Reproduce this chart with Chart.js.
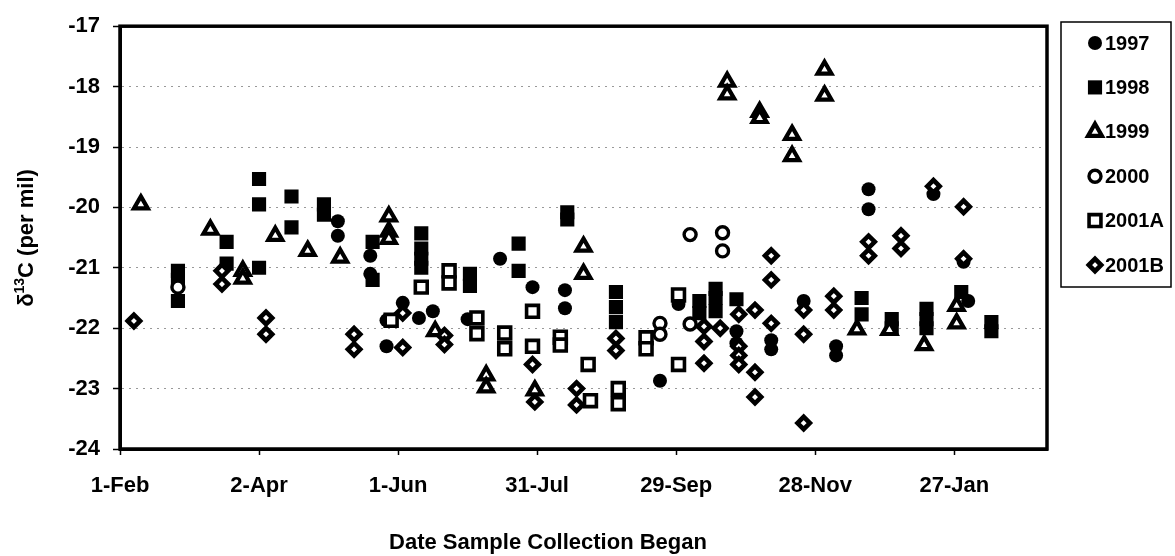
<!DOCTYPE html>
<html lang="en">
<head>
<meta charset="UTF-8">
<title>d13C by collection date</title>
<script src="https://cdn.jsdelivr.net/npm/chart.js"></script>
<style>
  body { margin: 0; background: #fff; }
  #wrap { width: 1175px; height: 556px; }
</style>
</head>
<body>
<div id="wrap"><canvas id="c" width="1175" height="556"></canvas></div>
<script>
// x = day of year counted from 1 Jan of the first year (1-Feb = 32, 27-Jan = 392)
const tickDays   = [32, 92, 152, 212, 272, 332, 392];
const tickLabels = ['1-Feb', '2-Apr', '1-Jun', '31-Jul', '29-Sep', '28-Nov', '27-Jan'];
const yTicks     = [-24, -23, -22, -21, -20, -19, -18, -17];

const seriesNames = ['1997', '1998', '1999', '2000', '2001A', '2001B'];

const x1997 = [126, 126, 140, 140, 147, 147, 154, 161, 167, 182, 196, 210, 224, 224, 265, 273, 298, 298, 313, 313, 327, 341, 341, 355, 355, 383, 396, 398];
const y1997 = [-20.23, -20.47, -20.8, -21.1, -21.87, -22.3, -21.58, -21.83, -21.72, -21.85, -20.85, -21.32, -21.37, -21.67, -22.87, -21.6, -22.05, -22.25, -22.2, -22.35, -21.55, -22.3, -22.45, -19.7, -20.03, -19.78, -20.9, -21.55];

const x1998 = [57, 57, 57, 78, 78, 92, 92, 92, 106, 106, 120, 120, 141, 141, 162, 162, 162, 162, 183, 183, 204, 204, 225, 225, 246, 246, 246, 282, 282, 289, 289, 289, 298, 352, 352, 365, 365, 380, 380, 380, 395, 408, 408];
const y1998 = [-21.05, -21.2, -21.55, -20.57, -20.93, -19.53, -19.95, -21.0, -19.82, -20.33, -19.95, -20.12, -20.57, -21.2, -20.43, -20.68, -20.85, -21.0, -21.1, -21.3, -20.6, -21.05, -20.08, -20.2, -21.4, -21.65, -21.9, -21.55, -21.75, -21.35, -21.5, -21.72, -21.52, -21.5, -21.77, -21.85, -22.0, -21.68, -21.85, -22.0, -21.4, -21.9, -22.05];

const x1999 = [41, 71, 85, 85, 99, 113, 127, 148, 148, 148, 168, 190, 190, 211, 232, 232, 294, 294, 308, 308, 322, 322, 336, 336, 350, 364, 379, 393, 393];
const y1999 = [-19.95, -20.37, -21.05, -21.18, -20.47, -20.72, -20.83, -20.15, -20.4, -20.52, -22.05, -22.78, -22.98, -23.03, -20.65, -21.1, -17.92, -18.13, -18.42, -18.52, -18.8, -19.15, -17.72, -18.15, -22.02, -22.03, -22.28, -21.63, -21.92];

const x2000 = [57, 265, 265, 278, 278, 292, 292];
const y2000 = [-21.32, -21.92, -22.1, -20.45, -21.93, -20.42, -20.72];

const x2001A = [149, 162, 174, 174, 186, 186, 198, 198, 210, 210, 222, 222, 234, 235, 247, 247, 259, 259, 273, 273];
const y2001A = [-21.87, -21.32, -21.05, -21.25, -21.83, -22.09, -22.08, -22.34, -21.72, -22.3, -22.15, -22.28, -22.6, -23.2, -23.0, -23.25, -22.16, -22.34, -21.45, -22.6];

const x2001B = [38, 76, 76, 95, 95, 133, 133, 154, 154, 172, 172, 210, 211, 229, 229, 246, 246, 284, 284, 284, 291, 299, 299, 299, 299, 306, 306, 306, 313, 313, 313, 327, 327, 327, 340, 340, 355, 355, 369, 369, 383, 396, 396];
const y2001B = [-21.88, -21.05, -21.27, -21.83, -22.1, -22.1, -22.35, -21.75, -22.32, -22.12, -22.27, -22.6, -23.22, -23.0, -23.27, -22.17, -22.37, -21.97, -22.22, -22.58, -22.0, -21.77, -22.3, -22.45, -22.6, -21.7, -22.73, -23.14, -20.8, -21.2, -21.92, -21.7, -22.1, -23.57, -21.47, -21.7, -20.57, -20.8, -20.47, -20.68, -19.65, -19.99, -20.85];

const allX = [x1997, x1998, x1999, x2000, x2001A, x2001B];
const allY = [y1997, y1998, y1999, y2000, y2001A, y2001B];

// marker look per series
const markers = [
  { pointStyle: 'circle',   radius: 7,   fill: '#000', borderWidth: 0 },
  { pointStyle: 'rect',     radius: 10,  fill: '#000', borderWidth: 0 },
  { pointStyle: 'triangle', radius: 8,   fill: '#fff', borderWidth: 4.2 },
  { pointStyle: 'circle',   radius: 6,   fill: '#fff', borderWidth: 3.4 },
  { pointStyle: 'rect',     radius: 8.4, fill: '#fff', borderWidth: 3.6 },
  { pointStyle: 'rectRot',  radius: 6.2, fill: '#fff', borderWidth: 4.6 }
];

const FONT = '"Liberation Sans", Arial, sans-serif';

const datasets = seriesNames.map((name, i) => ({
  label: name,
  data: allX[i].map((x, j) => ({ x: x, y: allY[i][j] })),
  pointStyle: markers[i].pointStyle,
  pointRadius: markers[i].radius,
  pointHoverRadius: markers[i].radius,
  pointBackgroundColor: markers[i].fill,
  pointBorderColor: '#000',
  pointBorderWidth: markers[i].borderWidth,
  showLine: false,
  order: 5 - i   // later years drawn on top, like the original
}));

function drawMarker(ctx, m, x, y) {
  ctx.save();
  ctx.beginPath();
  const r = m.radius;
  if (m.pointStyle === 'circle') {
    ctx.arc(x, y, r, 0, Math.PI * 2);
  } else if (m.pointStyle === 'rect') {
    const s = Math.SQRT1_2 * r;
    ctx.rect(x - s, y - s, 2 * s, 2 * s);
  } else if (m.pointStyle === 'triangle') {
    for (let k = 0; k < 3; k++) {
      const a = k * 2 * Math.PI / 3;
      const px = x + Math.sin(a) * r, py = y - Math.cos(a) * r;
      if (k === 0) ctx.moveTo(px, py); else ctx.lineTo(px, py);
    }
    ctx.closePath();
  } else {
    ctx.moveTo(x - r, y); ctx.lineTo(x, y - r); ctx.lineTo(x + r, y); ctx.lineTo(x, y + r);
    ctx.closePath();
  }
  ctx.fillStyle = m.fill;
  ctx.fill();
  if (m.borderWidth > 0) {
    ctx.lineWidth = m.borderWidth;
    ctx.strokeStyle = '#000';
    ctx.stroke();
  }
  ctx.restore();
}

const decor = {
  id: 'decor',
  afterDraw(chart) {
    const ctx = chart.ctx;
    const a = chart.chartArea;
    ctx.save();
    // heavy plot frame
    ctx.lineWidth = 3.5;
    ctx.strokeStyle = '#000';
    ctx.strokeRect(a.left, a.top, a.right - a.left, a.bottom - a.top);

    // x title
    ctx.fillStyle = '#000';
    ctx.font = 'bold 22px ' + FONT;
    ctx.textAlign = 'center';
    ctx.textBaseline = 'alphabetic';
    ctx.fillText('Date Sample Collection Began', 548, 549);

    // y title with superscript 13
    ctx.save();
    ctx.translate(33, 238);
    ctx.rotate(-Math.PI / 2);
    const big = 'bold 22px ' + FONT, small = 'bold 14px ' + FONT;
    ctx.font = big;
    const w1 = ctx.measureText('\u03b4').width;
    const w3 = ctx.measureText('C (per mil)').width;
    ctx.font = small;
    const w2 = ctx.measureText('13').width;
    let x0 = -(w1 + w2 + w3) / 2;
    ctx.textAlign = 'left';
    ctx.font = big;
    ctx.fillText('\u03b4', x0, 0);
    ctx.font = small;
    ctx.fillText('13', x0 + w1, -9);
    ctx.font = big;
    ctx.fillText('C (per mil)', x0 + w1 + w2, 0);
    ctx.restore();

    // legend box
    ctx.lineWidth = 1.5;
    ctx.strokeRect(1061, 22, 110, 265);
    ctx.font = 'bold 20px ' + FONT;
    ctx.textAlign = 'left';
    ctx.textBaseline = 'middle';
    seriesNames.forEach((name, i) => {
      const y = 43 + i * 44.4;
      drawMarker(ctx, markers[i], 1095, y);
      ctx.fillStyle = '#000';
      ctx.fillText(name, 1105, y + 1);
    });
    ctx.restore();
  }
};

new Chart(document.getElementById('c'), {
  type: 'scatter',
  data: { datasets: datasets },
  options: {
    responsive: false,
    animation: false,
    layout: { padding: { left: 0, right: 128, top: 23, bottom: 0 } },
    plugins: { legend: { display: false }, tooltip: { enabled: false } },
    scales: {
      x: {
        type: 'linear',
        min: 32,
        max: 432,
        afterBuildTicks: s => { s.ticks = tickDays.map(v => ({ value: v })); },
        afterFit: s => { s.height = 107; },
        grid: { drawOnChartArea: false, drawTicks: true, tickLength: 6, tickColor: '#000', tickWidth: 1.5 },
        border: { display: true, color: '#000', width: 3 },
        ticks: {
          color: '#000',
          padding: 18,
          maxRotation: 0,
          autoSkip: false,
          font: { family: FONT, size: 22, weight: 'bold' },
          callback: v => tickLabels[tickDays.indexOf(v)] || ''
        }
      },
      y: {
        min: -24,
        max: -17,
        afterBuildTicks: s => { s.ticks = yTicks.map(v => ({ value: v })); },
        afterFit: s => { s.width = 120; },
        grid: { color: '#999', lineWidth: 1, tickLength: 7, tickColor: '#000', tickWidth: 1.5 },
        border: { display: true, color: '#000', width: 3, dash: [2, 5] },
        ticks: {
          color: '#000',
          padding: 13,
          font: { family: FONT, size: 22, weight: 'bold' },
          callback: v => String(v)
        }
      }
    }
  },
  plugins: [decor]
});
</script>
</body>
</html>
